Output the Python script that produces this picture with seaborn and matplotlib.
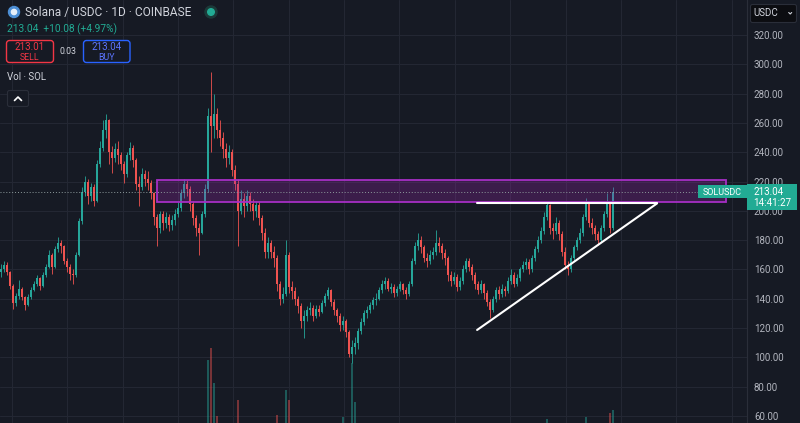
import numpy as np
import matplotlib
matplotlib.use("Agg")
import matplotlib.pyplot as plt
import seaborn as sns
from matplotlib.patches import Rectangle, FancyBboxPatch, Circle

# ---------------- data (daily-ish candles, SOL/USDC) ----------------
first_open = 158
closes = [
    160, 163, 158, 149, 137, 142, 147, 141, 136, 141,
    146, 150, 154, 149, 156, 162, 170, 162, 174, 178,
    176, 166, 162, 157, 156, 170, 193, 213, 220, 210,
    216, 207, 232, 243, 255, 262, 240, 236, 242, 238,
    232, 225, 238, 243, 235, 218, 216, 225, 222, 219,
    212, 196, 188, 198, 192, 196, 190, 194, 198, 202,
    212, 218, 215, 205, 195, 188, 185, 198, 215, 265,
    258, 266, 255, 250, 242, 236, 240, 228, 218, 200,
    208, 203, 210, 205, 200, 204, 195, 185, 172, 178,
    172, 168, 150, 140, 143, 170, 148, 145, 140, 135,
    125, 128, 132, 134, 128, 133, 131, 137, 142, 146,
    138, 132, 128, 122, 125, 117, 102, 107, 110, 118,
    124, 130, 132, 136, 139, 140, 146, 150, 152, 147,
    148, 144, 147, 150, 146, 143, 150, 166, 176, 180,
    175, 168, 166, 170, 172, 178, 176, 171, 168, 156,
    152, 155, 148, 152, 160, 166, 162, 156, 150, 146,
    150, 144, 138, 132, 140, 146, 143, 147, 145, 152,
    156, 150, 154, 160, 163, 165, 160, 168, 174, 180,
    186, 196, 204, 188, 186, 192, 184, 172, 163, 160,
    168, 175, 180, 185, 196, 205, 192, 188, 184, 180,
    188, 198, 205, 188, 213]
highs = [
    164, 166, 165, 159, 150, 144, 153, 148, 142, 143,
    148, 152, 156, 155, 158, 164, 173, 171, 176, 182,
    180, 177, 168, 164, 160, 172, 195, 216, 224, 222,
    219, 218, 235, 248, 262, 266, 263, 244, 246, 248,
    240, 234, 240, 247, 245, 236, 224, 229, 228, 227,
    221, 213, 198, 200, 200, 199, 198, 197, 201, 206,
    215, 222, 221, 217, 207, 197, 192, 200, 218, 270,
    295, 280, 270, 262, 254, 246, 245, 242, 231, 222,
    214, 212, 214, 213, 208, 207, 206, 197, 188, 182,
    180, 176, 170, 152, 148, 180, 172, 152, 148, 142,
    137, 132, 135, 138, 136, 136, 136, 139, 144, 148,
    147, 140, 134, 130, 128, 126, 119, 112, 114, 120,
    127, 132, 135, 138, 141, 144, 148, 153, 155, 154,
    151, 150, 149, 152, 151, 148, 152, 168, 179, 185,
    183, 177, 171, 173, 175, 187, 182, 178, 174, 169,
    159, 158, 157, 155, 163, 168, 168, 164, 158, 152,
    153, 151, 146, 140, 142, 148, 149, 150, 149, 155,
    160, 158, 157, 162, 166, 168, 167, 170, 176, 183,
    189, 199, 206, 205, 192, 196, 194, 186, 175, 166,
    170, 177, 182, 188, 198, 209, 206, 195, 190, 186,
    190, 200, 212, 206, 216]
lows = [
    155, 158, 156, 147, 133, 135, 140, 139, 132, 135,
    140, 145, 149, 146, 148, 155, 161, 157, 161, 172,
    171, 164, 158, 153, 150, 155, 169, 191, 210, 205,
    207, 203, 206, 230, 241, 250, 232, 226, 233, 232,
    228, 219, 223, 235, 230, 214, 203, 214, 217, 214,
    208, 190, 176, 185, 187, 188, 186, 187, 190, 196,
    200, 209, 210, 200, 190, 183, 170, 184, 196, 213,
    240, 250, 250, 244, 236, 230, 232, 224, 214, 176,
    198, 196, 200, 200, 194, 196, 190, 180, 168, 168,
    168, 162, 145, 136, 137, 142, 144, 140, 136, 130,
    120, 113, 125, 129, 125, 127, 128, 130, 135, 140,
    135, 129, 124, 118, 119, 114, 100, 96, 102, 106,
    116, 122, 127, 130, 133, 136, 139, 144, 147, 145,
    144, 141, 142, 145, 143, 140, 142, 149, 164, 173,
    171, 165, 162, 164, 167, 170, 172, 167, 163, 152,
    149, 150, 145, 146, 150, 158, 159, 153, 147, 143,
    144, 140, 135, 127, 131, 138, 140, 141, 142, 144,
    150, 148, 149, 152, 158, 160, 157, 158, 166, 172,
    178, 184, 194, 184, 181, 184, 180, 169, 160, 156,
    158, 166, 173, 178, 183, 194, 189, 184, 180, 177,
    179, 186, 196, 185, 187]

# visible volume bars (candle index, volume in display units)
vol_idx = [69, 70, 71, 72, 79, 92, 95, 96, 114, 117, 118, 182, 195, 203, 204]
vol_val = [88, 100, 65, 32, 48, 33, 58, 48, 31, 85, 46, 29, 31, 35, 38]

y_ticks = [60, 80, 100, 120, 140, 160, 180, 200, 220, 240, 260, 280, 300, 320]
last_price = 213.04
zone_x = [52.0, 241.7]
zone_y = [205.8, 221.0]
resist_x = [158.7, 218.7]
resist_y = [205.1, 205.1]
trend_x = [158.7, 218.7]
trend_y = [118.7, 205.1]

# ---------------- style ----------------
BG = "#161a24"
GRID = "#232733"
UP = "#26a69a"
DN = "#ef5350"
TXT = "#d1d4dc"
AX_TXT = "#b2b5be"

sns.set_theme(style="dark")
plt.rcParams["font.family"] = ["Roboto", "DejaVu Sans"]

W, H = 800, 423
fig = plt.figure(figsize=(W / 100, H / 100), dpi=100, facecolor=BG)

ax = fig.add_axes([0, 0, 747 / W, 1])
ax.set_facecolor(BG)
n = min(len(closes), len(highs), len(lows))
idx = np.arange(n)
c = np.array(closes[:n], dtype=float)
o = np.array([first_open] + closes[:n - 1], dtype=float)
hi = np.maximum(np.array(highs[:n], dtype=float), np.maximum(o, c))
lo = np.minimum(np.array(lows[:n], dtype=float), np.minimum(o, c))
up = c >= o
cols = np.where(up, UP, DN)

ax.vlines(idx, lo, hi, colors=cols, linewidth=0.6, zorder=3)
ax.bar(idx, np.maximum(np.abs(c - o), 0.5), bottom=np.minimum(o, c), width=0.6,
       color=cols, linewidth=0, zorder=3)

ax.set_xlim(-1 / 3, 746 / 3)
ax.set_ylim(55.22, 343.88)
ax.set_yticks(y_ticks)
ax.set_yticklabels([f"{v:.2f}" for v in y_ticks])
ax.yaxis.tick_right()
ax.tick_params(axis="y", length=0, pad=5, labelsize=7, colors=AX_TXT)
ax.set_xticks(np.arange(3.67, 249, 18.45))
ax.tick_params(axis="x", length=0, labelbottom=False)
ax.grid(True, color=GRID, linewidth=0.8)
for s in ["top", "left", "bottom"]:
    ax.spines[s].set_visible(False)
ax.spines["right"].set_color("#2a2e39")
ax.spines["right"].set_linewidth(0.8)

# zone
ax.add_patch(Rectangle((zone_x[0], zone_y[0]), zone_x[1] - zone_x[0], zone_y[1] - zone_y[0],
                       facecolor="#9c27b0", alpha=0.28, edgecolor="none", zorder=4))
ax.add_patch(Rectangle((zone_x[0], zone_y[0]), zone_x[1] - zone_x[0], zone_y[1] - zone_y[0],
                       facecolor="none", edgecolor="#a62fc4", linewidth=1.3, zorder=4))
# last price line
ax.axhline(last_price, color="#8d9a9c", linestyle=(0, (1, 2)), linewidth=0.7, zorder=4)
# trendlines
sns.lineplot(x=resist_x, y=resist_y, ax=ax, color="white", linewidth=1.5, zorder=5)
sns.lineplot(x=trend_x, y=trend_y, ax=ax, color="white", linewidth=1.5, zorder=5)

# volume overlay
axv = fig.add_axes([0, -25 / H, 747 / W, 0.3], sharex=ax)
axv.set_ylim(0, 0.3 * H)
axv.patch.set_alpha(0)
axv.axis("off")
vcols = [UP if up[i] else DN for i in vol_idx]
axv.bar(vol_idx, vol_val, width=0.6, color=vcols, alpha=0.45, linewidth=0)

# ---------------- overlay (pixel coordinates) ----------------
ov = fig.add_axes([0, 0, 1, 1], zorder=10)
ov.set_xlim(0, W)
ov.set_ylim(H, 0)
ov.axis("off")
ov.patch.set_alpha(0)

# header
ov.add_patch(Circle((14, 12), 5.5, color="#4d8fd6"))
ov.add_patch(Circle((14, 12), 2.6, color="#e6eef8"))
ov.text(25, 12.5, "Solana / USDC · 1D · COINBASE", color=TXT, fontsize=8.6, va="center", ha="left")
ov.add_patch(Circle((211, 12), 6, color="#1c3a39"))
ov.add_patch(Circle((211, 12), 3.3, color="#22ab94"))
ov.text(7, 29.5, "213.04  +10.08 (+4.97%)", color="#22ab94", fontsize=7.3, va="center", ha="left")

# sell / buy
ov.add_patch(FancyBboxPatch((6.5, 40.5), 47, 22, boxstyle="round,pad=0,rounding_size=3",
                            facecolor=BG, edgecolor="#f23645", linewidth=1))
ov.text(30, 46.5, "213.01", color="#f23645", fontsize=7, va="center", ha="center")
ov.text(30, 57, "SELL", color="#f23645", fontsize=6.3, va="center", ha="center")
ov.text(68, 51.5, "0.03", color=TXT, fontsize=6.3, va="center", ha="center")
ov.add_patch(FancyBboxPatch((83.5, 40.5), 46.5, 22, boxstyle="round,pad=0,rounding_size=3",
                            facecolor=BG, edgecolor="#2962ff", linewidth=1))
ov.text(106.8, 46.5, "213.04", color="#5b74ff", fontsize=7, va="center", ha="center")
ov.text(106.8, 57, "BUY", color="#5b74ff", fontsize=6.3, va="center", ha="center")

ov.text(7, 77, "Vol · SOL", color=TXT, fontsize=7, va="center", ha="left")
ov.add_patch(FancyBboxPatch((7.5, 90.5), 21, 16, boxstyle="round,pad=0,rounding_size=2",
                            facecolor=BG, edgecolor="#2a2e39", linewidth=0.8))
ov.plot([14.5, 18, 21.5], [100.5, 97, 100.5], color="white", linewidth=1.2)

# currency dropdown
ov.add_patch(FancyBboxPatch((750.5, 4.5), 46, 18, boxstyle="round,pad=0,rounding_size=2",
                            facecolor="#0c0d11", edgecolor="#2a2e39", linewidth=0.8))
ov.text(753, 13.5, "USDC", color=TXT, fontsize=7, va="center", ha="left")
ov.plot([788.7, 790.2, 791.7], [12.5, 14, 12.5], color=TXT, linewidth=0.8)

# price labels
ov.add_patch(Rectangle((698, 185.5), 49, 13, facecolor="#22ab94", edgecolor="none"))
ov.text(722.5, 192.2, "SOLUSDC", color="white", fontsize=6.5, va="center", ha="center")
ov.add_patch(Rectangle((747, 184.5), 50, 25.5, facecolor="#22ab94", edgecolor="none"))
ov.text(753, 192, "213.04", color="white", fontsize=7, va="center", ha="left")
ov.text(753, 203, "14:41:27", color="white", fontsize=7, va="center", ha="left")

fig.savefig("out.png", dpi=100, facecolor=BG)
